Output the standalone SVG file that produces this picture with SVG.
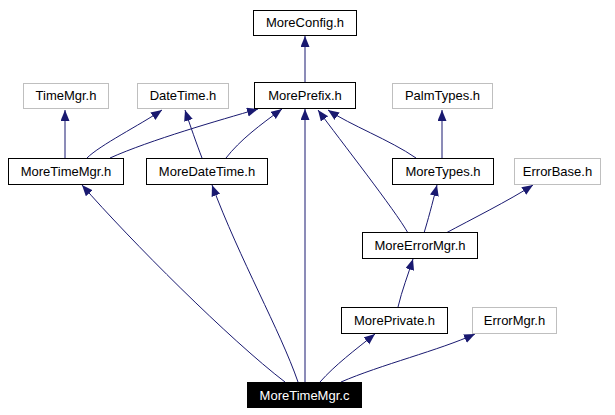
<svg xmlns="http://www.w3.org/2000/svg" width="615" height="415" viewBox="0 0 615 415">
<defs>
<marker id="arr" markerUnits="userSpaceOnUse" markerWidth="12" markerHeight="10" refX="11" refY="4.5" orient="auto">
<path d="M0,0 L11,4.5 L0,9 z" fill="#191970"/>
</marker>
<style>
.n rect{fill:#fff;stroke:#000;stroke-width:1}
.g rect{fill:#fff;stroke:#bfbfbf;stroke-width:1}
.b rect{fill:#000;stroke:#000;stroke-width:1}
text{font-family:"Liberation Sans",Arial,sans-serif;font-size:13px;text-anchor:middle;fill:#000}
.b text{fill:#fff}
#edges path{fill:none;stroke:#191970;stroke-width:1;marker-end:url(#arr)}
</style>
</defs>
<rect width="615" height="415" fill="#fff"/>
<g id="edges">
<path d="M305,82 L305,36"/>
<path d="M65,158 L65,110"/>
<path d="M87,158 C100,145 140,125 162,110"/>
<path d="M110,158 C150,140 220,120 258,109"/>
<path d="M202,158 C197,145 190,125 185,110"/>
<path d="M226,158 C240,140 260,125 282,109"/>
<path d="M305,382 L305,109"/>
<path d="M416,158 C390,140 350,125 328,110"/>
<path d="M442,158 L442,110"/>
<path d="M408,233 C395,210 340,140 318,110"/>
<path d="M424,233 C428,220 432,205 437,185"/>
<path d="M446,233 C470,220 510,200 533,185"/>
<path d="M398,307 C402,290 408,275 413,259"/>
<path d="M320,382 C335,365 355,350 375,334"/>
<path d="M341,382 C380,365 440,350 475,334"/>
<path d="M285,382 C230,340 130,240 82,185"/>
<path d="M298,382 C280,330 240,260 212,185"/>
</g>
<g id="MoreConfig" class="n"><rect x="253.5" y="10.5" width="103" height="25"/><text x="305" y="27">MoreConfig.h</text></g>
<g id="MorePrefix" class="n"><rect x="254.5" y="82.5" width="101" height="26"/><text x="305" y="100">MorePrefix.h</text></g>
<g id="TimeMgr" class="g"><rect x="23.5" y="83.5" width="85" height="25"/><text x="66" y="100">TimeMgr.h</text></g>
<g id="DateTime" class="g"><rect x="137.5" y="83.5" width="91" height="25"/><text x="183" y="100">DateTime.h</text></g>
<g id="PalmTypes" class="g"><rect x="392.5" y="83.5" width="100" height="25"/><text x="442.5" y="100">PalmTypes.h</text></g>
<g id="MoreTimeMgrH" class="n"><rect x="8.5" y="158.5" width="115" height="26"/><text x="66" y="176">MoreTimeMgr.h</text></g>
<g id="MoreDateTime" class="n"><rect x="146.5" y="158.5" width="121" height="26"/><text x="207" y="176">MoreDateTime.h</text></g>
<g id="MoreTypes" class="n"><rect x="392.5" y="158.5" width="101" height="26"/><text x="443" y="176">MoreTypes.h</text></g>
<g id="ErrorBase" class="g"><rect x="514.5" y="158.5" width="86" height="26"/><text x="557.5" y="176">ErrorBase.h</text></g>
<g id="MoreErrorMgr" class="n"><rect x="362.5" y="232.5" width="115" height="26"/><text x="420" y="250">MoreErrorMgr.h</text></g>
<g id="MorePrivate" class="n"><rect x="341.5" y="307.5" width="106" height="26"/><text x="394.5" y="325">MorePrivate.h</text></g>
<g id="ErrorMgr" class="g"><rect x="472.5" y="307.5" width="84" height="26"/><text x="514.5" y="325">ErrorMgr.h</text></g>
<g id="MoreTimeMgrC" class="b"><rect x="247.5" y="382.5" width="114" height="25"/><text x="304.5" y="400">MoreTimeMgr.c</text></g>
</svg>
